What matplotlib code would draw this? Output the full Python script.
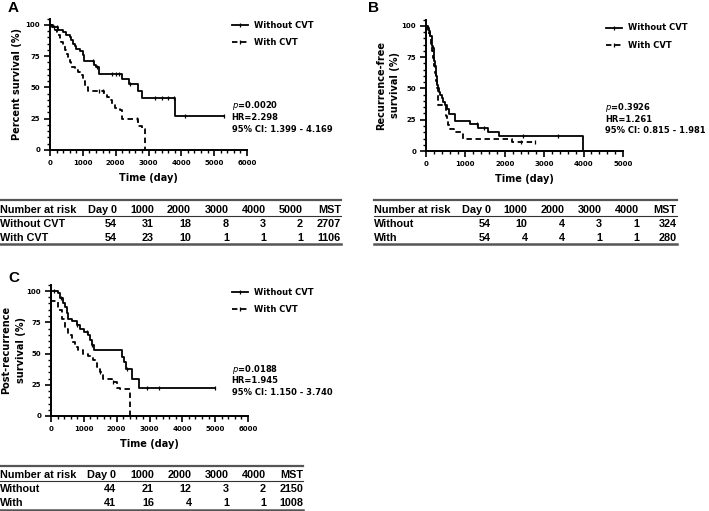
import matplotlib
matplotlib.use("Agg")
import matplotlib.pyplot as plt
from matplotlib.lines import Line2D
from matplotlib.ticker import MultipleLocator
import numpy as np

W, H = 709, 511

# --- Panel A: overall survival ---
a_wo_t = [100, 250, 400, 500, 600, 650, 700, 760, 800, 900, 1000, 1050, 1350, 1400, 1480, 2200, 2400, 2690, 2810, 3820]
a_wo_s = [98, 96, 94, 92, 90, 88, 85, 83, 81, 79, 76, 71, 68, 66, 60.5, 57, 52.5, 47, 41.2, 27.5]
a_wo_end = 5300
a_wo_cens = [120, 220, 1300, 1420, 1900, 2000, 2100, 2450, 3200, 3400, 3600, 3780, 4100, 5300]
a_w_t = [50, 150, 200, 250, 300, 350, 400, 450, 500, 560, 610, 650, 760, 850, 920, 1010, 1060, 1110, 1150,
         1650, 1730, 1800, 1880, 1980, 2130, 2190, 2690, 2810, 2880]
a_w_s = [98, 96, 94, 92, 89, 86, 83, 80, 77, 74, 70, 66, 64, 62, 60, 55, 52, 50, 47,
         45, 42.5, 40, 37, 33.5, 32, 25, 19.5, 16.5, 0]
a_w_end = 2880
a_w_cens = [1500, 1600, 2650]

# --- Panel B: recurrence-free survival ---
b_wo_t = [40, 80, 110, 140, 160, 185, 200, 215, 230, 245, 260, 275, 290, 310, 330, 360, 400, 440, 480, 525, 580,
          740, 1120, 1330, 1580, 1860, 3980]
b_wo_s = [98, 96, 92, 88, 84, 82, 76, 72, 68, 64, 60, 56, 53, 50, 47, 45, 42, 39, 36.5, 33.6, 29.4,
          24, 21.3, 18.7, 15.5, 11.7, 0]
b_wo_end = 3980
b_wo_cens = [60, 1300, 1480, 2450, 3350]
b_w_t = [30, 60, 90, 120, 150, 180, 210, 240, 260, 280, 300, 315, 510, 530, 560, 620, 700, 950, 2180]
b_w_s = [97, 94, 90, 85, 80, 74, 68, 62, 56, 50, 43, 37, 28, 24, 21, 18, 15.5, 9.6, 7]
b_w_end = 2770
b_w_cens = [2400, 2770]

# --- Panel C: post-recurrence survival ---
c_wo_t = [220, 270, 370, 430, 480, 510, 630, 780, 880, 1010, 1120, 1190, 1240, 1320, 2170, 2220, 2270, 2480, 2690]
c_wo_s = [98, 94, 90, 87, 82, 78, 75.7, 73, 70, 67, 64.5, 60.5, 56.5, 52.5, 47, 43, 37.3, 29.3, 22.4]
c_wo_end = 4995
c_wo_cens = [100, 300, 800, 1100, 1250, 2300, 2910, 3290, 4995]
c_w_t = [10, 220, 320, 430, 530, 630, 730, 830, 980, 1140, 1290, 1390, 1490, 1590, 1850, 2000, 2100, 2410]
c_w_s = [92, 84.5, 78, 70, 64.5, 59, 55, 52.5, 50, 48, 44.5, 39, 35, 29.3, 27, 22.4, 21.3, 0]
c_w_end = 2410
c_w_cens = [1500, 1900]

# risk tables
tab_a_head = ["Number at risk", "Day 0", "1000", "2000", "3000", "4000", "5000", "MST"]
tab_a_rows = [["Without CVT", 54, 31, 18, 8, 3, 2, 2707],
              ["With CVT", 54, 23, 10, 1, 1, 1, 1106]]
tab_b_head = ["Number at risk", "Day 0", "1000", "2000", "3000", "4000", "MST"]
tab_b_rows = [["Without", 54, 10, 4, 3, 1, 324],
              ["With", 54, 4, 4, 1, 1, 280]]
tab_c_head = ["Number at risk", "Day 0", "1000", "2000", "3000", "4000", "MST"]
tab_c_rows = [["Without", 44, 21, 12, 3, 2, 2150],
              ["With", 41, 16, 4, 1, 1, 1008]]

stats_a = ["0.0020", "HR=2.298", "95% CI: 1.399 - 4.169"]
stats_b = ["0.3926", "HR=1.261", "95% CI: 0.815 - 1.981"]
stats_c = ["0.0188", "HR=1.945", "95% CI: 1.150 - 3.740"]

FONT = "DejaVu Sans"
TFONT = "Liberation Sans"

fig = plt.figure(figsize=(W / 100, H / 100), dpi=100)


def fx(px):
    return px / W


def fy(py):
    return 1 - py / H


def curve(ax, t, s, end, cens, ls):
    tt = np.r_[0, t, end]
    ss = np.r_[100, s, s[-1]]
    ax.step(tt, ss, where="post", color="black", lw=1.3, linestyle=ls, clip_on=False)
    idx = np.searchsorted(tt, cens, side="right") - 1
    ax.plot(cens, ss[idx], linestyle="none", marker="|", ms=3.5, mew=0.9, color="black", clip_on=False)


def km_panel(x0, x1, ybot, xmax, ylab, lab_x, lab_size, data, stats, stat_pos, leg_pos, letter_pos, letter):
    height = 131.25
    ax = fig.add_axes([fx(x0), fy(ybot), (x1 - x0) / W, height / H])
    for t, s, end, cens, ls in data:
        curve(ax, t, s, end, cens, ls)
    ax.set_xlim(0, xmax)
    ax.set_ylim(0, 105)
    ax.set_yticks([0, 25, 50, 75, 100])
    ax.set_xticks(np.arange(0, xmax + 1, 1000))
    ax.xaxis.set_minor_locator(MultipleLocator(200))
    ax.yaxis.set_minor_locator(MultipleLocator(5))
    for sp in ["top", "right"]:
        ax.spines[sp].set_visible(False)
    for sp in ["left", "bottom"]:
        ax.spines[sp].set_linewidth(1.4)
    ax.tick_params(which="major", length=4, width=1.2, pad=3, labelsize=5)
    ax.tick_params(which="minor", length=2, width=1.0)
    for lbl in ax.get_xticklabels() + ax.get_yticklabels():
        lbl.set_fontweight("bold")
        lbl.set_family(FONT)
    ax.set_xlabel("Time (day)", fontsize=7, fontweight="bold", family=FONT, labelpad=5)
    ax.set_ylabel(ylab, fontsize=lab_size, fontweight="bold", family=FONT, linespacing=1.5,
                  va="center")
    ax.yaxis.set_label_coords(fx(lab_x), fy(ybot) + height / H / 2, transform=fig.transFigure)

    handles = [Line2D([], [], color="black", lw=1.3, marker="|", ms=3.5, mew=0.9),
               Line2D([], [], color="black", lw=1.3, linestyle=(0, (3, 2)), marker="|", ms=3.5, mew=0.9)]
    ax.legend(handles, ["Without CVT", "With CVT"], loc="upper left",
              bbox_to_anchor=(fx(leg_pos[0]), fy(leg_pos[1])), bbox_transform=fig.transFigure,
              frameon=False, prop={"family": FONT, "weight": "bold", "size": 6},
              handlelength=1.9, handletextpad=0.8, labelspacing=1.0, borderpad=0, borderaxespad=0)

    sx, sy = stat_pos
    fig.text(fx(sx), fy(sy), r"$\it{p}$=" + stats[0], fontsize=6, fontweight="bold", family=FONT, va="center")
    fig.text(fx(sx), fy(sy + 11.8), stats[1], fontsize=6, fontweight="bold", family=FONT, va="center")
    fig.text(fx(sx), fy(sy + 23.6), stats[2], fontsize=6, fontweight="bold", family=FONT, va="center")
    fig.text(fx(letter_pos[0]), fy(letter_pos[1]), letter, fontsize=11, fontweight="bold",
             family=TFONT, va="center")
    return ax


def risk_table(left, rights, ys, head, rows, lines):
    x_end = rights[-1]
    for j, h in enumerate(head):
        if j == 0:
            fig.text(fx(left), fy(ys[0]), h, fontsize=7.8, fontweight="bold", family=TFONT, va="center")
        else:
            fig.text(fx(rights[j - 1]), fy(ys[0]), h, fontsize=7.8, fontweight="bold", family=TFONT,
                     va="center", ha="right")
    for i, row in enumerate(rows):
        for j, v in enumerate(row):
            if j == 0:
                fig.text(fx(left), fy(ys[i + 1]), v, fontsize=7.8, fontweight="bold", family=TFONT, va="center")
            else:
                fig.text(fx(rights[j - 1]), fy(ys[i + 1]), str(v), fontsize=7.8, fontweight="bold",
                         family=TFONT, va="center", ha="right")
    top, mid, bot = lines
    fig.add_artist(Line2D([fx(left), fx(x_end)], [fy(top), fy(top)], transform=fig.transFigure,
                          color="#555555", lw=1.6))
    fig.add_artist(Line2D([fx(left), fx(x_end)], [fy(mid), fy(mid)], transform=fig.transFigure,
                          color="#333333", lw=0.8))
    fig.add_artist(Line2D([fx(left), fx(x_end)], [fy(bot), fy(bot)], transform=fig.transFigure,
                          color="#555555", lw=1.8))


km_panel(50, 247, 150, 6000, "Percent survival (%)", 17, 7,
         [(a_wo_t, a_wo_s, a_wo_end, a_wo_cens, "-"), (a_w_t, a_w_s, a_w_end, a_w_cens, (0, (3, 2)))],
         stats_a, (231.7, 105.7), (232, 21), (8, 8), "A")
km_panel(426, 623, 151, 5000, "Recurrence-free\nsurvival (%)", 388, 7,
         [(b_wo_t, b_wo_s, b_wo_end, b_wo_cens, "-"), (b_w_t, b_w_s, b_w_end, b_w_cens, (0, (3, 2)))],
         stats_b, (605, 107.3), (606, 23.5), (368, 8), "B")
km_panel(51, 248, 416, 6000, "Post-recurrence\nsurvival (%)", 13.5, 7,
         [(c_wo_t, c_wo_s, c_wo_end, c_wo_cens, "-"), (c_w_t, c_w_s, c_w_end, c_w_cens, (0, (3, 2)))],
         stats_c, (231.7, 369), (232, 288), (8, 278), "C")

risk_table(0, [116.7, 154, 191, 229, 266, 303, 341], [210, 224.3, 238.3], tab_a_head, tab_a_rows,
           (200.5, 216, 244.5))
risk_table(374, [490.7, 527.7, 564.7, 602, 639, 676.7], [210, 224.3, 238.3], tab_b_head, tab_b_rows,
           (200.5, 216, 244.5))
risk_table(0, [116, 154, 191.7, 229, 266, 303], [475, 489.3, 503.3], tab_c_head, tab_c_rows,
           (465.5, 481, 509.8))

fig.savefig("out.png", dpi=100)
